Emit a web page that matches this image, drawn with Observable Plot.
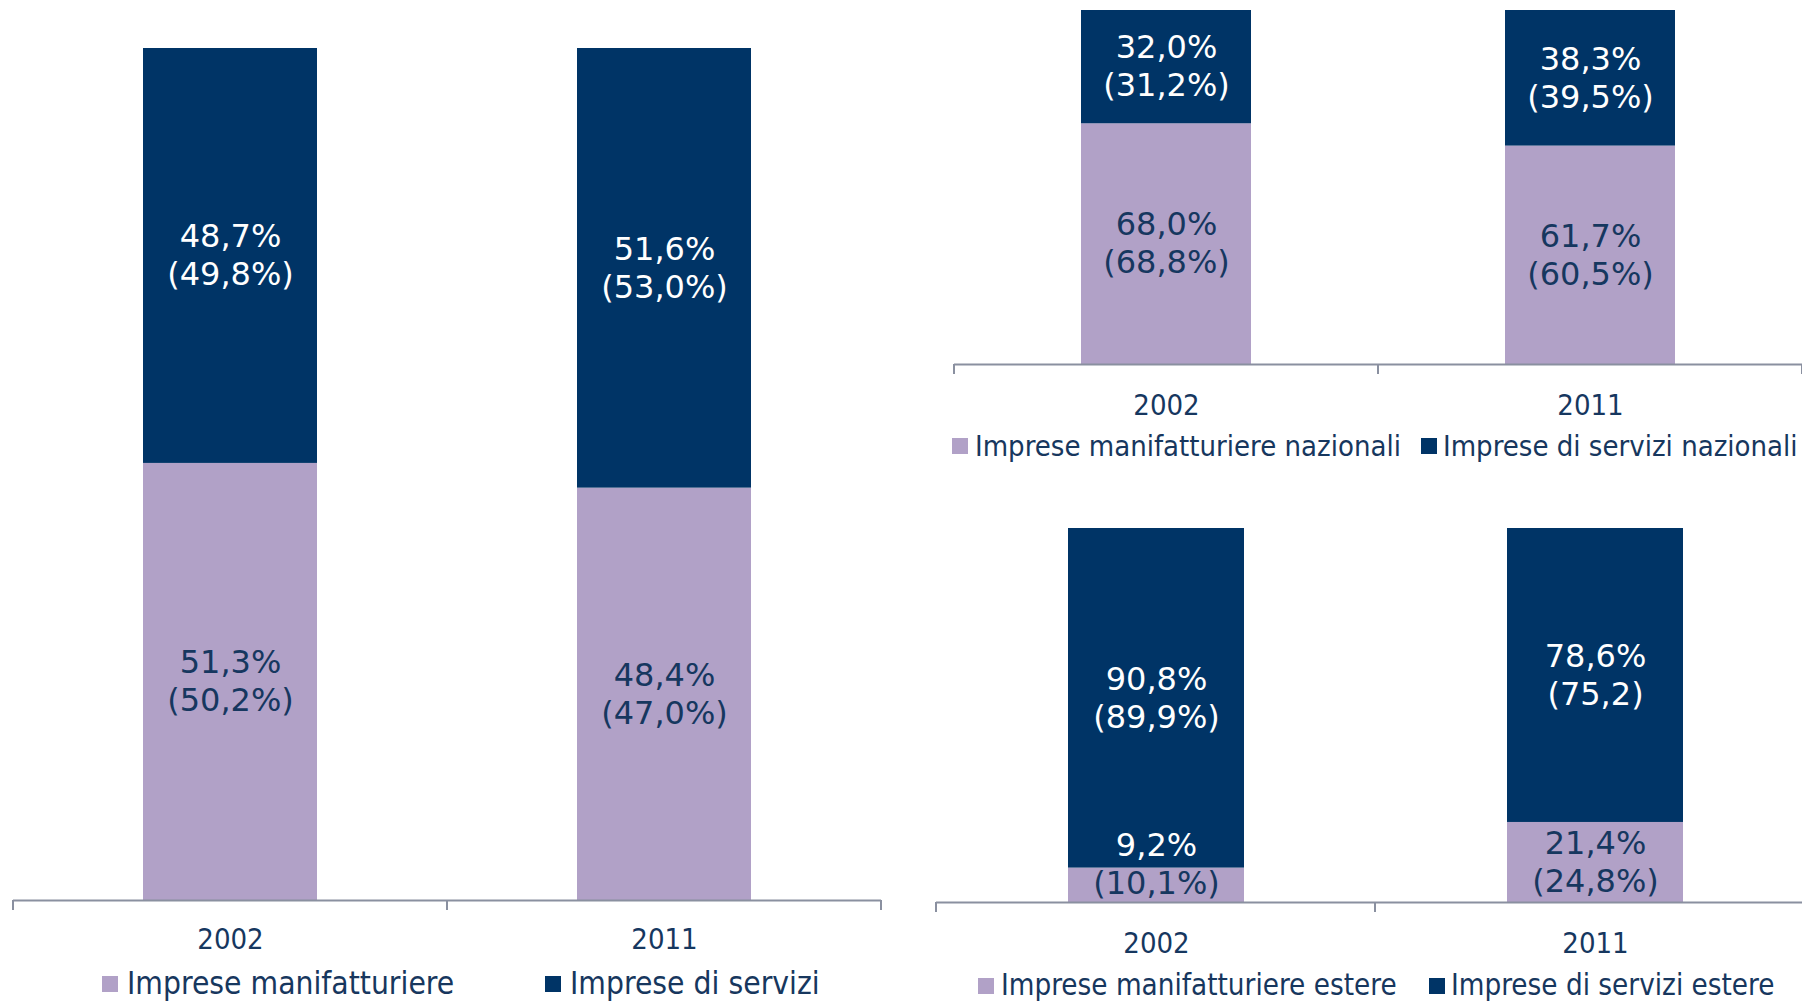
<!DOCTYPE html>
<html><head><meta charset="utf-8">
<script src="https://cdn.jsdelivr.net/npm/d3@7"></script>
<script src="https://cdn.jsdelivr.net/npm/@observablehq/plot@0.6"></script>
<style>
html,body{margin:0;padding:0;background:#fff;}
#page{position:relative;width:1802px;height:1005px;overflow:hidden;background:#fff;}
.panel{position:absolute;overflow:visible;}
.lg-text{position:absolute;font-family:"DejaVu Sans Condensed","DejaVu Sans",sans-serif;font-stretch:condensed;color:#17375e;white-space:nowrap;line-height:1;transform:translateY(-50%);}
.lg-sw{position:absolute;width:16px;height:16px;transform:translateY(-50%);}
</style></head><body><div id="page"></div>
<script>
// ---- data ----
const years = ["2002", "2011"];

// Totale imprese
const totSeries = ["Imprese manifatturiere", "Imprese di servizi"];
const totManif = [51.3, 48.4];
const totServ = [48.7, 51.6];
const totManifPrev = ["(50,2%)", "(47,0%)"];
const totServPrev = ["(49,8%)", "(53,0%)"];

// Imprese nazionali
const nazSeries = ["Imprese manifatturiere nazionali", "Imprese di servizi nazionali"];
const nazManif = [68.0, 61.7];
const nazServ = [32.0, 38.3];
const nazManifPrev = ["(68,8%)", "(60,5%)"];
const nazServPrev = ["(31,2%)", "(39,5%)"];

// Imprese estere
const estSeries = ["Imprese manifatturiere estere", "Imprese di servizi estere"];
const estManif = [9.2, 21.4];
const estServ = [90.8, 78.6];
const estManifPrev = ["(10,1%)", "(24,8%)"];
const estServPrev = ["(89,9%)", "(75,2)"];

// ---- style ----
const NAVY = "#003466";
const LAV = "#b1a1c7";
const TEXT = "#16375f";
const AXIS = "#8a90a0";
const NUM_FONT = "DejaVu Sans, sans-serif";
const COND_FONT = "DejaVu Sans Condensed, DejaVu Sans, sans-serif";

const page = document.getElementById("page");
const fmt = v => v.toFixed(1).replace(".", ",") + "%";

function makePanel(cfg) {
  const {series, manif, serv, manifPrev, servPrev, x0, x1, y0, y1, yearGap, yearSize, legend} = cfg;
  const ml = 2, mr = 2, mt = 2, mb = 70;
  const W = x1 - x0 + ml + mr;
  const H = y1 - y0 + mt + mb;
  const pxPerUnit = (y1 - y0) / 100;
  const half = 19 / pxPerUnit;       // half line spacing in data units
  const minMid = 38 / pxPerUnit;     // keep label block inside plot

  const rows = [];
  const labels = [];
  years.forEach((yr, i) => {
    const parts = [
      {series: series[0], value: manif[i], prev: manifPrev[i], dark: false},
      {series: series[1], value: serv[i], prev: servPrev[i], dark: true}
    ];
    let lo = 0;
    for (const p of parts) {
      const hi = lo + p.value;
      rows.push({year: yr, series: p.series, value: p.value});
      const mid = Math.max((lo + hi) / 2, minMid);
      const l1 = mid + half, l2 = mid - half;
      labels.push({year: yr, y: l1, text: fmt(p.value), white: p.dark || l1 > hi});
      labels.push({year: yr, y: l2, text: p.prev, white: p.dark || l2 > hi});
      lo = hi;
    }
  });

  const boundaryTicks = (index, scales, values, dims) => {
    const g = d3.create("svg:g");
    const yb = dims.height - dims.marginBottom;
    const a = dims.marginLeft, b = dims.width - dims.marginRight;
    for (const x of [a, (a + b) / 2, b]) {
      g.append("line").attr("x1", x).attr("x2", x).attr("y1", yb).attr("y2", yb + 10)
        .attr("stroke", AXIS).attr("stroke-width", 2);
    }
    return g.node();
  };

  const svg = Plot.plot({
    width: W, height: H,
    marginLeft: ml, marginRight: mr, marginTop: mt, marginBottom: mb,
    x: {domain: years, paddingInner: 0.6, paddingOuter: 0.3, axis: null},
    y: {domain: [0, 100], axis: null},
    color: {domain: series, range: [LAV, NAVY]},
    style: {background: "transparent", overflow: "visible"},
    marks: [
      Plot.barY(rows, {x: "year", y: "value", fill: "series"}),
      Plot.ruleY([0], {stroke: AXIS, strokeWidth: 2}),
      boundaryTicks,
      Plot.text(labels.filter(d => d.white), {x: "year", y: "y", text: "text", fill: "white",
        fontSize: 32, fontFamily: NUM_FONT}),
      Plot.text(labels.filter(d => !d.white), {x: "year", y: "y", text: "text", fill: TEXT,
        fontSize: 32, fontFamily: NUM_FONT}),
      Plot.text(years, {x: d => d, frameAnchor: "bottom", lineAnchor: "middle", dy: yearGap,
        text: d => d, fill: TEXT, fontSize: yearSize, fontFamily: COND_FONT})
    ]
  });
  svg.classList.add("panel");
  svg.style.left = (x0 - ml) + "px";
  svg.style.top = (y0 - mt) + "px";
  page.appendChild(svg);

  // legend
  series.forEach((s, i) => {
    const sw = document.createElement("div");
    sw.className = "lg-sw";
    sw.style.left = legend.sw[i] + "px";
    sw.style.top = legend.cy + "px";
    sw.style.background = i === 0 ? LAV : NAVY;
    page.appendChild(sw);
    const t = document.createElement("div");
    t.className = "lg-text";
    t.textContent = s;
    t.style.left = legend.tx[i] + "px";
    t.style.top = legend.cy + "px";
    t.style.fontSize = legend.size + "px";
    page.appendChild(t);
  });
}

makePanel({series: totSeries, manif: totManif, serv: totServ, manifPrev: totManifPrev, servPrev: totServPrev,
  x0: 13, x1: 881, y0: 48, y1: 900, yearGap: 39.5, yearSize: 29,
  legend: {cy: 984, sw: [102, 545], tx: [127, 570], size: 31.5}});

makePanel({series: nazSeries, manif: nazManif, serv: nazServ, manifPrev: nazManifPrev, servPrev: nazServPrev,
  x0: 954, x1: 1802, y0: 10, y1: 364, yearGap: 41, yearSize: 29,
  legend: {cy: 446, sw: [952, 1421], tx: [975, 1443], size: 29}});

makePanel({series: estSeries, manif: estManif, serv: estServ, manifPrev: estManifPrev, servPrev: estServPrev,
  x0: 936, x1: 1814, y0: 528, y1: 902, yearGap: 41, yearSize: 29,
  legend: {cy: 986, sw: [978, 1429], tx: [1001, 1451], size: 29.3}});
</script>
</body></html>
